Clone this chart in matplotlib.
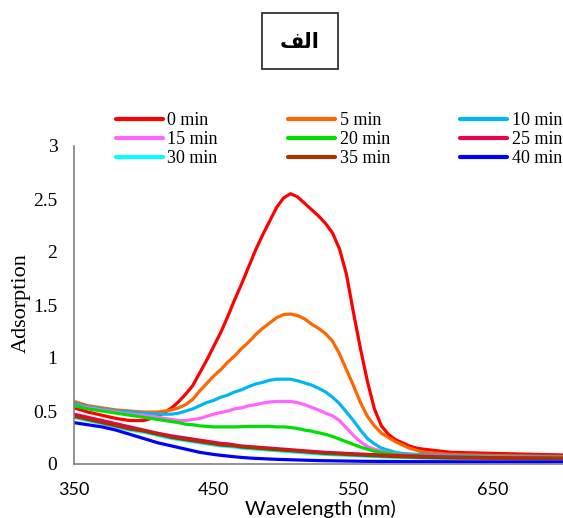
import numpy as np
import matplotlib
matplotlib.use("Agg")
import matplotlib.pyplot as plt
from matplotlib.patches import Rectangle

wl = [350, 360, 370, 380, 390, 400, 410,
      420, 425, 430, 435, 440, 445, 450, 455, 460, 465, 470, 475, 480, 485, 490, 495,
      500, 505, 510, 515, 520, 525, 530, 535, 540, 545, 550, 555, 560, 565, 570, 575,
      580, 585, 590, 595, 600,
      620, 650, 700]

a0 = [0.53, 0.49, 0.46, 0.43, 0.41, 0.41, 0.45,
      0.53, 0.59, 0.66, 0.74, 0.86, 0.98, 1.11, 1.24, 1.39, 1.55, 1.70, 1.86, 2.02, 2.16, 2.29, 2.42,
      2.51, 2.55, 2.52, 2.46, 2.40, 2.34, 2.27, 2.18, 2.03, 1.79, 1.43, 1.09, 0.78, 0.52, 0.36, 0.28,
      0.23, 0.20, 0.17, 0.15, 0.14,
      0.11, 0.10, 0.085]
a5 = [0.59, 0.55, 0.53, 0.51, 0.50, 0.49, 0.49,
      0.51, 0.53, 0.56, 0.61, 0.69, 0.76, 0.83, 0.89, 0.96, 1.02, 1.09, 1.15, 1.22, 1.28, 1.33, 1.38,
      1.41, 1.415, 1.40, 1.37, 1.32, 1.28, 1.23, 1.16, 1.04, 0.89, 0.74, 0.58, 0.45, 0.36, 0.29, 0.25,
      0.21, 0.18, 0.15, 0.13, 0.11,
      0.09, 0.08, 0.07]
a10 = [0.57, 0.54, 0.52, 0.50, 0.49, 0.48, 0.47,
       0.47, 0.48, 0.50, 0.52, 0.55, 0.58, 0.60, 0.63, 0.65, 0.68, 0.70, 0.73, 0.755, 0.77, 0.79, 0.80,
       0.80, 0.80, 0.785, 0.765, 0.745, 0.715, 0.68, 0.63, 0.57, 0.49, 0.41, 0.32, 0.24, 0.19, 0.15, 0.13,
       0.11, 0.10, 0.095, 0.09, 0.088,
       0.08, 0.072, 0.065]
a15 = [0.55, 0.53, 0.51, 0.49, 0.47, 0.46, 0.44,
       0.42, 0.41, 0.41, 0.42, 0.43, 0.45, 0.47, 0.485, 0.50, 0.52, 0.53, 0.55, 0.56, 0.575, 0.585, 0.59,
       0.59, 0.59, 0.58, 0.56, 0.535, 0.51, 0.48, 0.455, 0.41, 0.34, 0.27, 0.21, 0.165, 0.14, 0.12, 0.105,
       0.095, 0.09, 0.085, 0.08, 0.078,
       0.072, 0.066, 0.06]
a20 = [0.55, 0.52, 0.50, 0.48, 0.46, 0.44, 0.42,
       0.40, 0.39, 0.375, 0.37, 0.36, 0.355, 0.35, 0.35, 0.35, 0.35, 0.352, 0.355, 0.355, 0.355, 0.355, 0.35,
       0.35, 0.345, 0.335, 0.32, 0.31, 0.295, 0.28, 0.26, 0.235, 0.21, 0.185, 0.16, 0.14, 0.12, 0.11, 0.10,
       0.09, 0.085, 0.08, 0.078, 0.075,
       0.068, 0.064, 0.06]
a25 = [0.47, 0.44, 0.41, 0.38, 0.35, 0.32, 0.29,
       0.265, 0.255, 0.245, 0.235, 0.225, 0.215, 0.205, 0.195, 0.19, 0.18, 0.17, 0.165, 0.16, 0.155, 0.15, 0.145,
       0.14, 0.135, 0.13, 0.125, 0.12, 0.115, 0.11, 0.107, 0.104, 0.10, 0.097, 0.094, 0.091, 0.088, 0.085, 0.082,
       0.08, 0.078, 0.076, 0.074, 0.072,
       0.066, 0.06, 0.056]
a30 = [0.44, 0.41, 0.38, 0.35, 0.32, 0.30, 0.27,
       0.24, 0.23, 0.22, 0.21, 0.20, 0.19, 0.18, 0.17, 0.165, 0.16, 0.15, 0.145, 0.14, 0.135, 0.13, 0.125,
       0.12, 0.115, 0.11, 0.105, 0.10, 0.095, 0.09, 0.088, 0.085, 0.082, 0.079, 0.076, 0.073, 0.07, 0.068, 0.066,
       0.064, 0.062, 0.06, 0.058, 0.056,
       0.052, 0.049, 0.047]
a35 = [0.45, 0.42, 0.39, 0.36, 0.33, 0.31, 0.28,
       0.25, 0.24, 0.23, 0.22, 0.21, 0.20, 0.19, 0.18, 0.175, 0.17, 0.16, 0.155, 0.15, 0.145, 0.14, 0.135,
       0.13, 0.125, 0.12, 0.115, 0.11, 0.105, 0.10, 0.097, 0.094, 0.09, 0.087, 0.084, 0.081, 0.078, 0.075, 0.072,
       0.07, 0.068, 0.066, 0.064, 0.062,
       0.057, 0.053, 0.05]
a40 = [0.39, 0.37, 0.35, 0.32, 0.28, 0.24, 0.20,
       0.17, 0.155, 0.14, 0.125, 0.11, 0.10, 0.09, 0.082, 0.075, 0.068, 0.062, 0.057, 0.053, 0.05, 0.047, 0.044,
       0.042, 0.04, 0.038, 0.036, 0.034, 0.032, 0.031, 0.03, 0.029, 0.028, 0.027, 0.026, 0.025, 0.025, 0.024, 0.024,
       0.023, 0.023, 0.022, 0.022, 0.022,
       0.021, 0.02, 0.02]

labels = ['0 min', '5 min', '10 min', '15 min', '20 min', '25 min', '30 min', '35 min', '40 min']
series = [a0, a5, a10, a15, a20, a25, a30, a35, a40]
colors = ['#FF0000', '#FF6600', '#00B8F0', '#FF66FF', '#00E000', '#E8004C', '#00FFFF', '#A83200', '#0000FF']

fig = plt.figure(figsize=(5.63, 5.18), dpi=100)
ax = fig.add_axes([74 / 563, 54 / 518, 489 / 563, 318 / 518])

lines = []
for y, c, lab in zip(series, colors, labels):
    ln, = ax.plot(wl, y, color=c, lw=2.3, label=lab,
                  solid_capstyle='round', solid_joinstyle='round')
    lines.append(ln)

ax.set_xlim(350, 700)
ax.set_ylim(0, 3)
ax.set_xticks([350, 450, 550, 650])
ax.set_yticks([0, 0.5, 1, 1.5, 2, 2.5, 3])
ax.set_yticklabels(['0', '0.5', '1', '1.5', '2', '2.5', '3'])
for s in ['top', 'right']:
    ax.spines[s].set_visible(False)
for s in ['left', 'bottom']:
    ax.spines[s].set_color('#808080')
    ax.spines[s].set_linewidth(1.2)
ax.tick_params(axis='both', length=0)
ax.tick_params(axis='y', pad=12)
ax.tick_params(axis='x', pad=13)
for t in ax.get_yticklabels():
    t.set_fontfamily('Liberation Serif')
    t.set_fontsize(14)
for t in ax.get_xticklabels():
    t.set_fontfamily('Lato')
    t.set_fontsize(13)

fig.text(320 / 563, 1 - 509 / 518, 'Wavelength (nm)', ha='center', va='center',
         fontsize=14.5, family='Lato')
fig.text(21 / 563, 1 - 303 / 518, 'Adsorption', ha='center', va='center',
         rotation=90, fontsize=16, family='Liberation Serif')

# legend: 3 columns, row-wise order as in the original
order = [0, 3, 6, 1, 4, 7, 2, 5, 8]
leg = fig.legend([lines[i] for i in order], [labels[i] for i in order], ncol=3,
                 loc='lower left', bbox_to_anchor=(116 / 563, 1 - 167 / 518, 446 / 563, 56 / 518),
                 mode='expand', frameon=False, borderpad=0, borderaxespad=0,
                 handlelength=2.6, handletextpad=0.25, labelspacing=0.1,
                 prop={'family': 'Liberation Serif', 'size': 13})
for h in leg.legend_handles:
    h.set_linewidth(3)

# title box
fig.add_artist(Rectangle((262 / 563, 1 - 69 / 518), 76 / 563, 56 / 518,
                         transform=fig.transFigure, fill=False, ec='#333333', lw=1.3))
# Arabic "الف" written in presentation forms (visual order) since matplotlib does no shaping
fig.text(300 / 563, 1 - 42 / 518, '\uFED2\uFEDF\uFE8D', ha='center', va='center',
         fontsize=15, fontweight='bold', family='DejaVu Sans')

fig.savefig('out.png', dpi=100)
